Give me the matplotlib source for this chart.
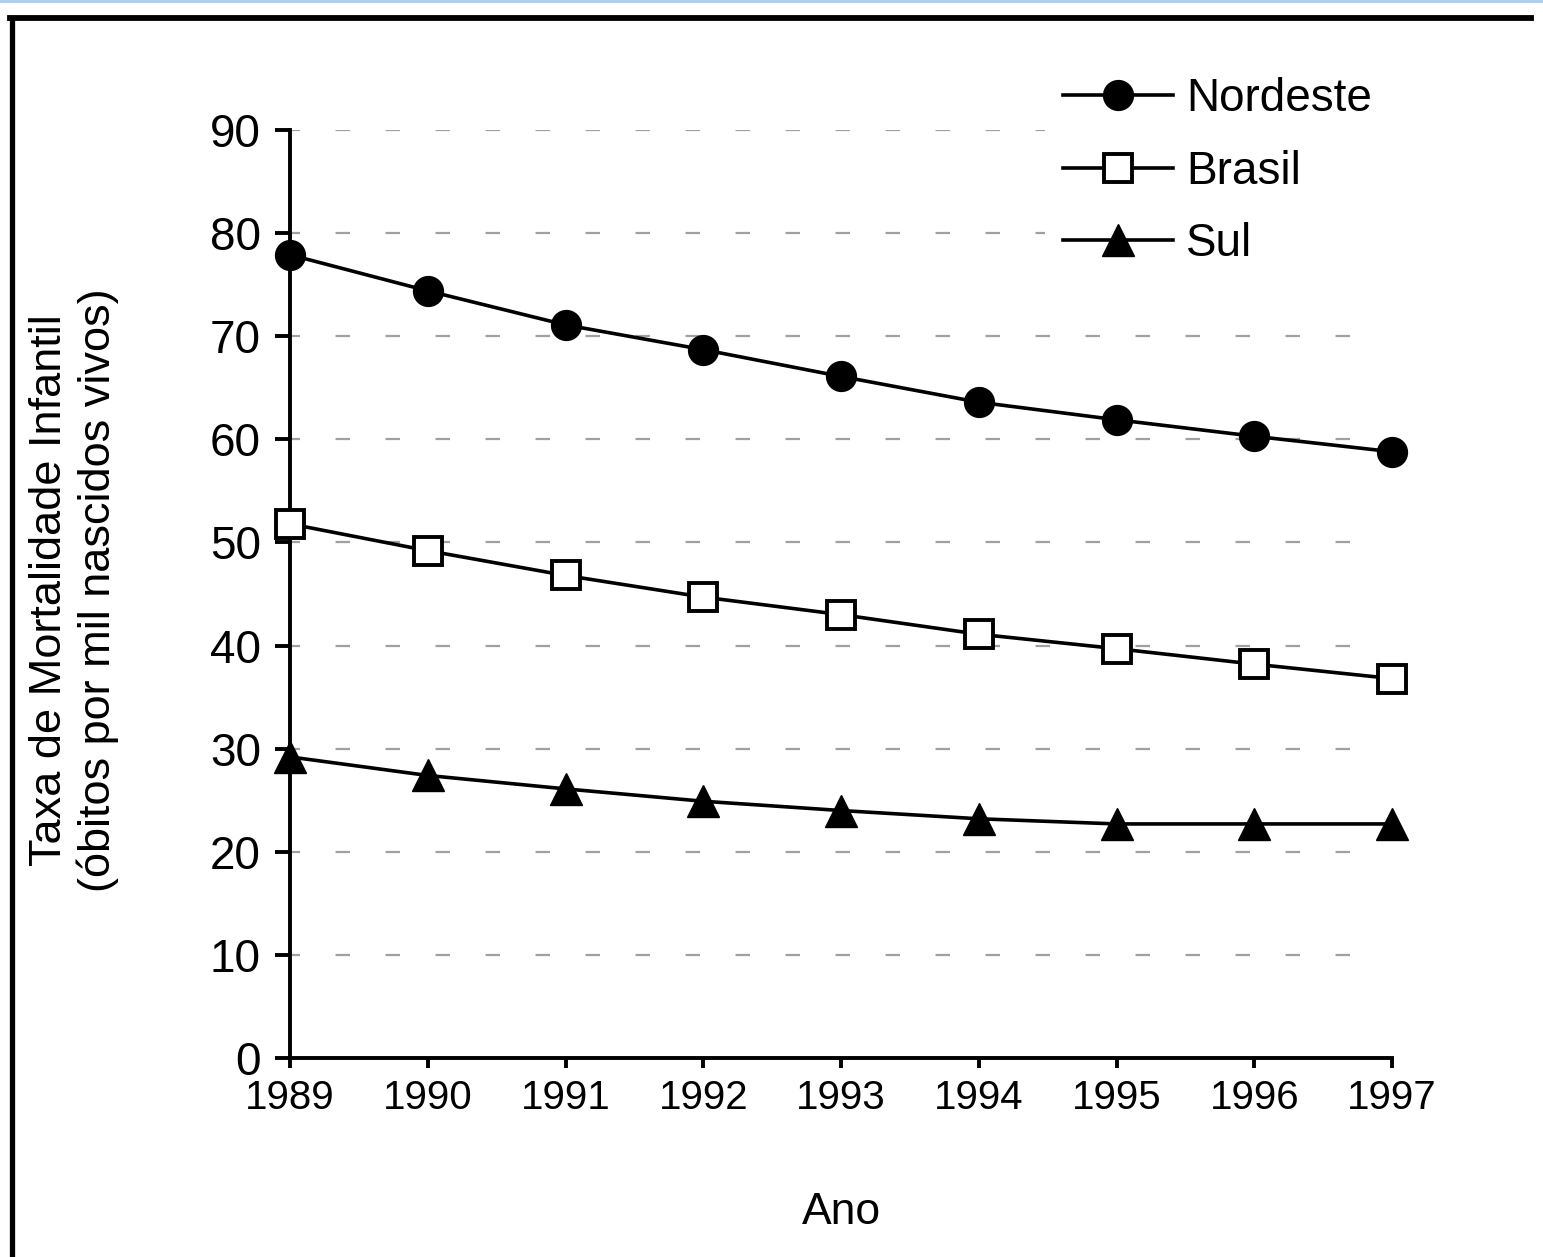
import matplotlib

matplotlib.use("Agg")
import matplotlib.pyplot as plt
from matplotlib.lines import Line2D
from matplotlib.patches import Rectangle

plt.rcParams["font.family"] = ["Liberation Sans", "DejaVu Sans"]

# infant mortality rate (deaths per 1000 live births)
anos = [1989, 1990, 1991, 1992, 1993, 1994, 1995, 1996, 1997]
nordeste = [77.9, 74.4, 71.1, 68.7, 66.1, 63.6, 61.9, 60.3, 58.8]
brasil = [51.8, 49.2, 46.8, 44.7, 43.0, 41.1, 39.7, 38.2, 36.8]
sul = [29.2, 27.4, 26.1, 24.9, 24.0, 23.2, 22.7, 22.7, 22.7]
yticks = list(range(0, 100, 10))

W, H = 1543, 1257
fig = plt.figure(figsize=(W / 100, H / 100), dpi=100)
fig.patch.set_facecolor("white")

# light blue strip on top + black frame (left and top edges)
fig.add_artist(Rectangle((0, 1 - 3 / H), 1, 3 / H, transform=fig.transFigure,
                         facecolor="#b4cdea", edgecolor="none"))
fig.add_artist(Line2D([12 / W, 12 / W], [0, 1 - 18 / H], transform=fig.transFigure,
                      color="black", lw=3.8))
fig.add_artist(Line2D([10 / W, 1531 / W], [1 - 18 / H, 1 - 18 / H],
                      transform=fig.transFigure, color="black", lw=4.2))

ax = fig.add_axes([290 / W, 1 - 1058 / H, (1392 - 290) / W, (1058 - 130) / H])

lw = 2.6
ax.plot(anos, nordeste, "-o", color="black", lw=lw, ms=21.5, mfc="black",
        mec="black", label="Nordeste", clip_on=False, zorder=4)
ax.plot(anos, brasil, "-s", color="black", lw=lw, ms=19.5, mfc="white",
        mec="black", mew=2.8, label="Brasil", clip_on=False, zorder=4)
ax.plot(anos, sul, "-^", color="black", lw=lw, ms=23, mfc="black",
        mec="black", label="Sul", clip_on=False, zorder=4)

ax.set_xlim(1989, 1997)
ax.set_ylim(0, 90)
ax.set_xticks(anos)
ax.set_yticks(yticks)
ax.tick_params(axis="y", direction="out", length=11, width=2.8, labelsize=33, pad=10)
ax.tick_params(axis="x", direction="out", length=7, width=2.8, labelsize=29, pad=8)

for s in ["top", "right"]:
    ax.spines[s].set_visible(False)
for s in ["left", "bottom"]:
    ax.spines[s].set_linewidth(2.8)

for v in yticks[1:]:
    ax.axhline(v, xmin=0, xmax=0.99, color="#a0a0a0", lw=1.6,
               linestyle=(2, (6.5, 16)), zorder=1)

ax.set_xlabel("Ano", fontsize=32, labelpad=54)
fig.text(74 / W, 1 - 590 / H,
         "Taxa de Mortalidade Infantil\n(óbitos por mil nascidos vivos)",
         rotation=90, ha="center", va="center", fontsize=32.5,
         multialignment="center", linespacing=1.2)

leg = ax.legend(loc="upper left", bbox_to_anchor=(1022 / W, 1 - 36 / H),
                bbox_transform=fig.transFigure, fontsize=33, handlelength=2.4,
                handletextpad=0.28, labelspacing=0.62, borderpad=0.4,
                frameon=True, fancybox=False, framealpha=1)
leg.get_frame().set_edgecolor("none")
leg.get_frame().set_facecolor("white")
leg.set_zorder(5)

fig.savefig("out.png", dpi=100)
